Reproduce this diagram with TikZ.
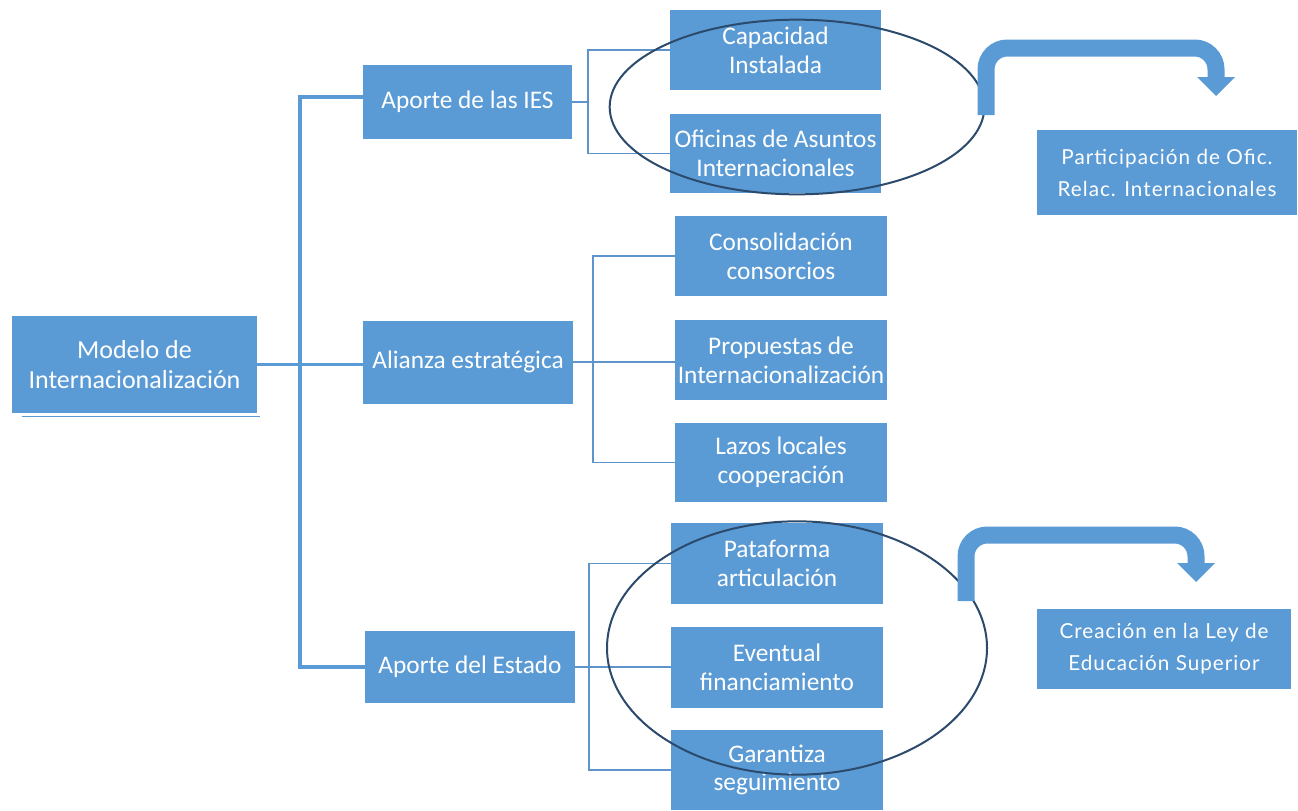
\documentclass[tikz,border=0pt]{standalone}
\usepackage{fontspec}
\setmainfont{Carlito}
\newfontfamily\twfont[LetterSpace=5]{Lato}
\definecolor{boxblue}{HTML}{5B9BD5}
\definecolor{linkblue}{HTML}{5E93CB}
\definecolor{ellcol}{HTML}{2B4A6C}
\begin{document}
\begin{tikzpicture}[x=0.75pt,y=-0.75pt,
  bx/.style 2 args={draw=none,fill=boxblue,text=white,align=center,inner sep=0pt,
     minimum width=#1*0.75pt,minimum height=#2*0.75pt,font=\fontsize{19}{21.5}\selectfont},
  rbx/.style 2 args={bx={#1}{#2},font=\twfont\fontsize{15.5}{24}\selectfont},
  trunk/.style={draw=boxblue,line width=2.5pt},
  twig/.style={draw=linkblue,line width=1.3pt},
  ell/.style={draw=ellcol,line width=1.5pt},
  bent/.style={draw=boxblue,line width=12.75pt,rounded corners=16pt,line cap=butt},
  headfill/.style={fill=boxblue,draw=none}]
\useasboundingbox (0,0) rectangle (1298,810);

% nodes
\node[bx={245}{97},font=\fontsize{19.5}{22.5}\selectfont] (modelo) at (134.5,364.5) {Modelo de\\Internacionalización};
\node[bx={209}{74}] (ies) at (467.5,102) {Aporte de las IES};
\node[bx={210}{83}] (alianza) at (468,362) {Alianza estratégica};
\node[bx={210}{72}] (estado) at (470,667) {Aporte del Estado};

\node[bx={211}{80}] (cap) at (775.5,50) {Capacidad\\Instalada};
\node[bx={211}{79}] (ofi) at (775.5,153.5) {Oficinas de Asuntos\\Internacionales};
\node[bx={212}{80}] (cons) at (781,256) {Consolidación\\consorcios};
\node[bx={212}{80}] (prop) at (781,360) {Propuestas de\\Internacionalización};
\node[bx={212}{79}] (lazos) at (781,462.5) {Lazos locales\\cooperación};
\node[bx={212}{81}] (pata) at (777,563.5) {Pataforma\\articulación};
\node[bx={212}{81}] (event) at (777,667.5) {Eventual\\financiamiento};
\node[bx={212}{80}] (gar) at (777,770) {Garantiza\\seguimiento};

\node[rbx={260}{85}] (part) at (1167,172.5) {Participación de Ofic.\\Relac. Internacionales};
\node[rbx={254}{80}] (crea) at (1164,649) {Creación en la Ley de\\Educación Superior};

% underline under main box
\draw[draw=boxblue,line width=1pt] ([xshift=7.5pt,yshift=-2.5pt]modelo.south west) -- ([xshift=2pt,yshift=-2.5pt]modelo.south east);

% trunk
\coordinate (tj) at (300,365);
\draw[trunk] (modelo.east) -- (modelo.east -| alianza.west);
\draw[trunk] ([yshift=3.75pt]ies.west) -| (tj) |- (estado.west);

% twigs
\draw[twig] (ies.east) -- ++(16,0) coordinate (a1);
\draw[twig] (cap.west) -| (a1) |- (ofi.west);
\draw[twig] (alianza.east) -- (alianza.east -| prop.west);
\draw[twig] (cons.west) -| (593,362) |- (lazos.west);
\draw[twig] (estado.east) -- (estado.east -| event.west);
\draw[twig] (pata.west) -| (589,667) |- (gar.west);

% ellipses
\draw[ell] (797,107) ellipse [x radius=140.5pt,y radius=65.5pt];
\draw[ell] (797,648) ellipse [x radius=142.5pt,y radius=95pt];

% bent arrows
\coordinate (b1s) at (986,115);
\coordinate (b1e) at (1216,78);
\draw[bent] (b1s) -- (986,48) -- (1216,48) -- (b1e);
\fill[headfill] (1197,77) -- (1235,77) -- (1216,96) -- cycle;

\coordinate (b2s) at (966,601);
\coordinate (b2e) at (1196,564);
\draw[bent] (b2s) -- (966,535) -- (1196,535) -- (b2e);
\fill[headfill] (1177,563) -- (1215,563) -- (1196,582) -- cycle;
\end{tikzpicture}
\end{document}
